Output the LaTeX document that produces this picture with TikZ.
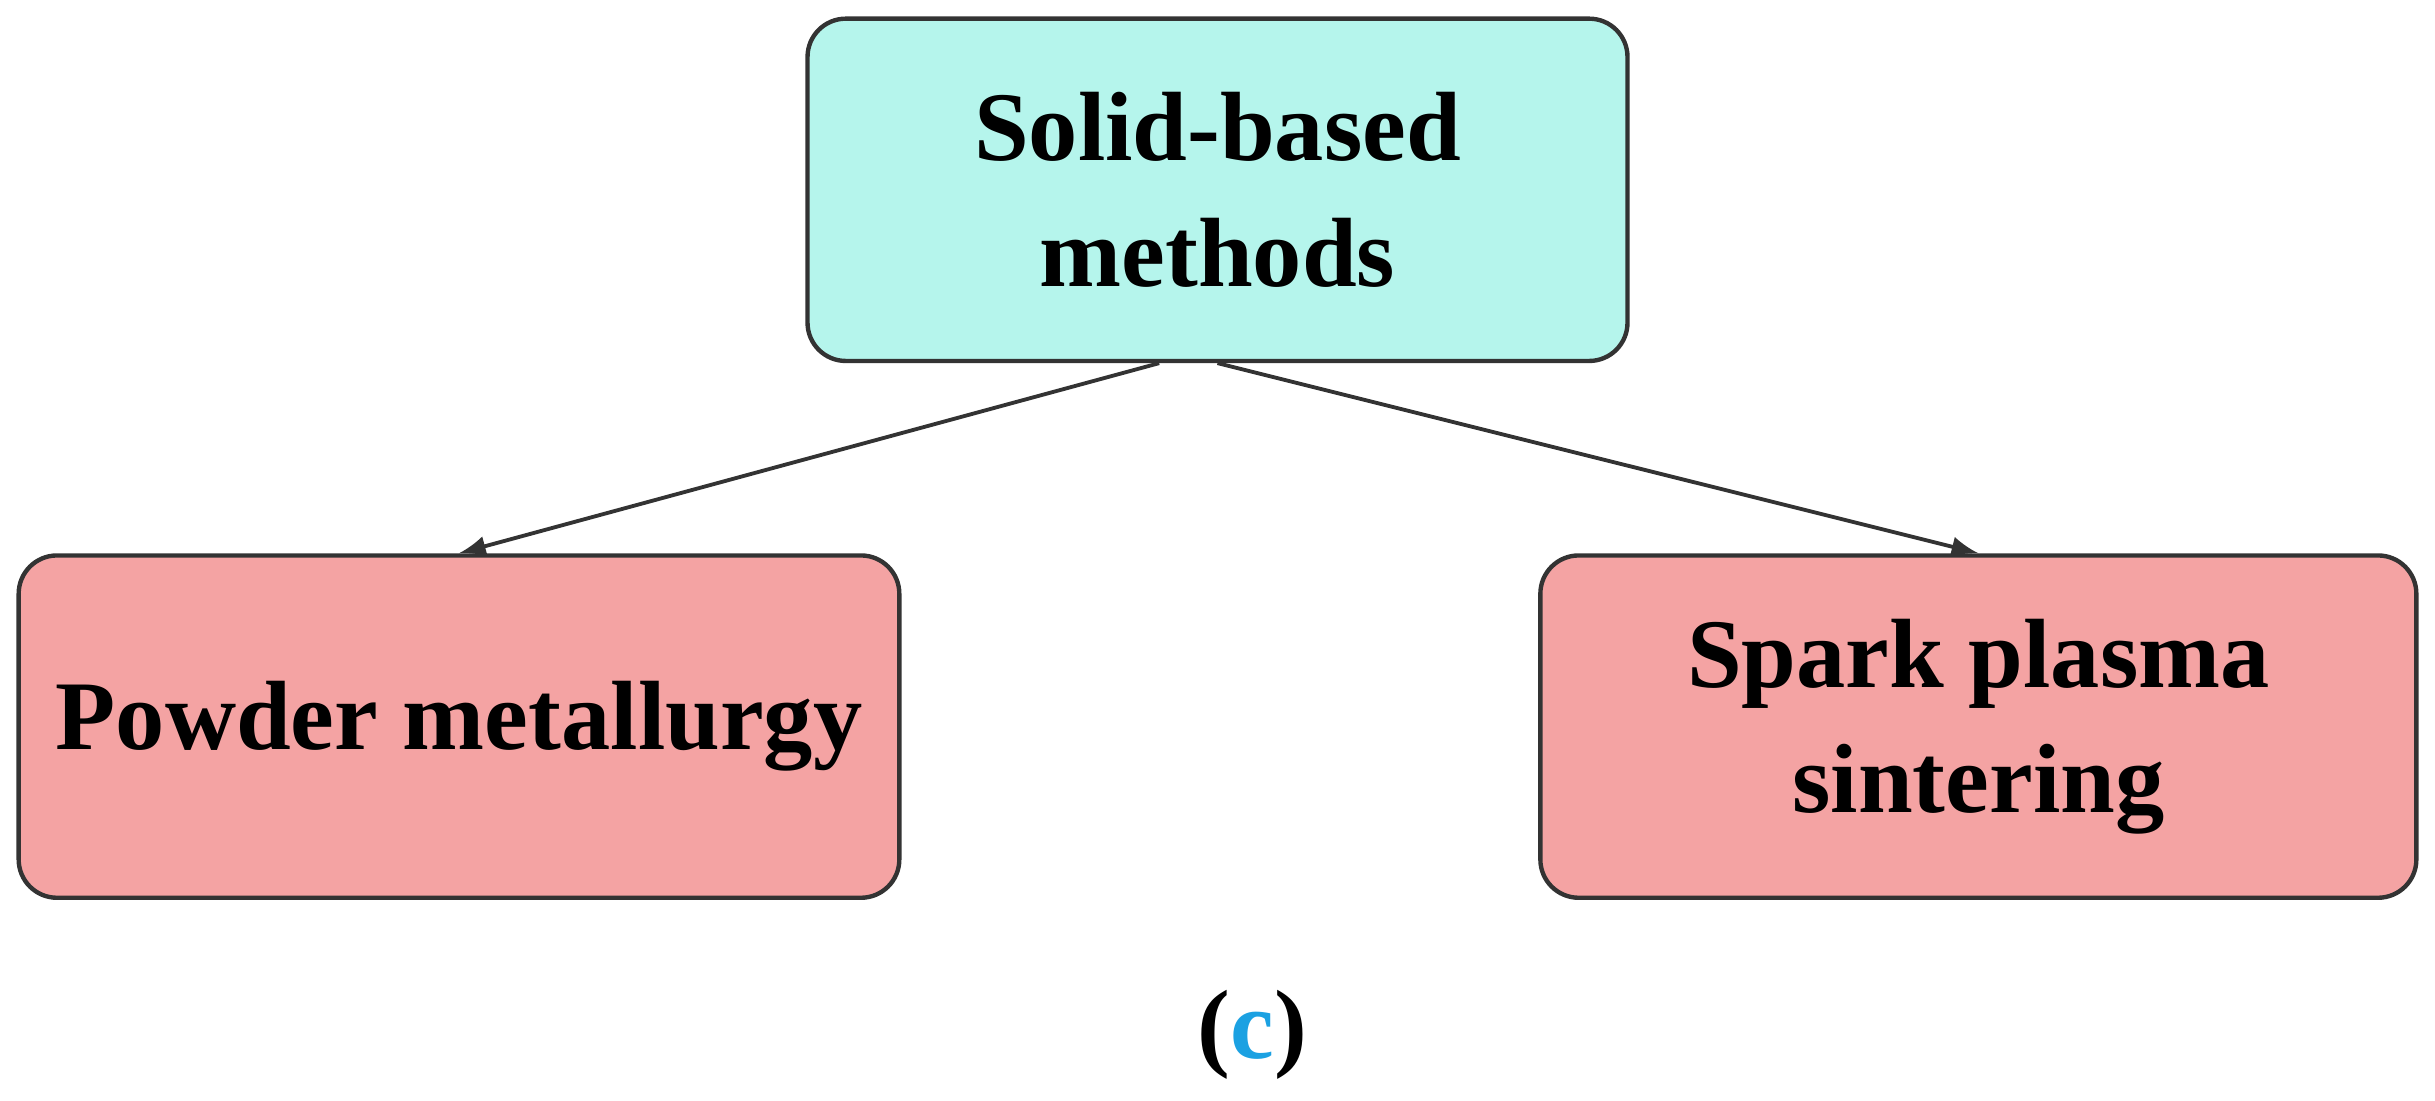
\documentclass[tikz,border=0pt]{standalone}
\usepackage{fontspec}
\setmainfont{Liberation Serif}
\usetikzlibrary{calc}
\usetikzlibrary{arrows}
\definecolor{topfill}{HTML}{B5F5EC}
\definecolor{subfill}{HTML}{F4A3A3}
\definecolor{capblue}{HTML}{1BA1E2}
\tikzset{
	box/.style={draw=black!80, line width=0.8pt, rounded corners=7pt, align=center, font=\fontsize{18}{23}\selectfont\bfseries},
	link/.style={-latex, line width=0.7pt, draw=black!80}
}
\begin{document}
\begin{tikzpicture}
		\useasboundingbox (0,0) rectangle (15.65,7.07);

		\node[box, fill=topfill, minimum width=5.27cm, minimum height=2.2cm] (solid) at (7.825, 5.85) {Solid-based\\methods};
		\node[box, fill=subfill, minimum width=5.66cm, minimum height=2.2cm] (powder) at (2.95, 2.40) {Powder metallurgy};
		\node[box, fill=subfill, minimum width=5.63cm, minimum height=2.2cm] (spark) at (12.715, 2.40) {Spark plasma\\sintering};

		% solid to children
		\draw[link] ($(solid.south)+(-0.375,0)$) -- (powder.north);
		\draw[link] (solid.south) -- (spark.north);

		\node[font=\fontsize{18}{20}\selectfont\bfseries] (caption) at (8.05, 0.42) {(\textcolor{capblue}{c})};
\end{tikzpicture}
\end{document}
